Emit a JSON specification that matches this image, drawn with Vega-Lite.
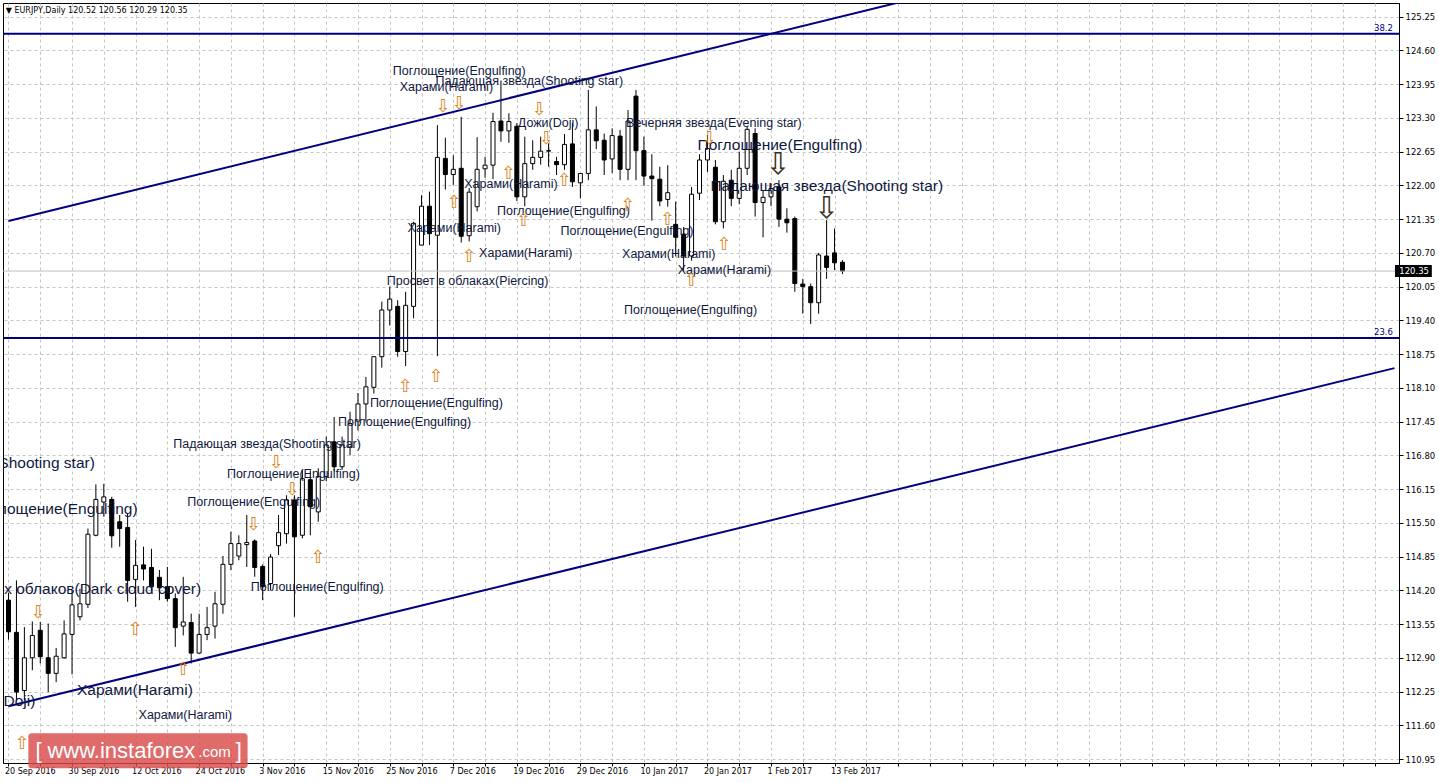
{
"$schema": "https://vega.github.io/schema/vega-lite/v6.json",
"width": 1396, "height": 760,
"autosize": {"type": "none"},
"padding": {"left": 3, "top": 3, "right": 40, "bottom": 20},
"background": "white",
"config": {"view": {"stroke": "black", "strokeWidth": 1}, "font": "DejaVu Sans",
  "axis": {"labelOverlap": false, "labelSeparation": 0}},
"datasets": {
"candles": [
{"i":0,"o":114.01,"h":114.15,"l":113.25,"c":113.40},
{"i":1,"o":113.39,"h":114.39,"l":112.08,"c":112.24},
{"i":2,"o":112.27,"h":113.49,"l":112.08,"c":112.90},
{"i":3,"o":112.90,"h":113.60,"l":112.66,"c":113.33},
{"i":4,"o":113.43,"h":113.59,"l":112.79,"c":112.92},
{"i":5,"o":112.90,"h":113.56,"l":112.24,"c":112.60},
{"i":6,"o":112.60,"h":113.09,"l":112.43,"c":112.93},
{"i":7,"o":112.90,"h":113.62,"l":112.88,"c":113.36},
{"i":8,"o":113.35,"h":114.20,"l":112.58,"c":113.92},
{"i":9,"o":113.69,"h":114.23,"l":113.62,"c":113.94},
{"i":10,"o":113.93,"h":115.39,"l":113.86,"c":115.28},
{"i":11,"o":115.26,"h":116.24,"l":115.24,"c":115.95},
{"i":12,"o":115.90,"h":116.25,"l":115.62,"c":116.00},
{"i":13,"o":115.95,"h":116.00,"l":115.02,"c":115.25},
{"i":14,"o":115.52,"h":115.65,"l":115.04,"c":115.39},
{"i":15,"o":115.41,"h":115.68,"l":113.98,"c":114.39},
{"i":16,"o":114.41,"h":115.17,"l":113.88,"c":114.68},
{"i":17,"o":114.69,"h":115.04,"l":114.39,"c":114.61},
{"i":18,"o":114.64,"h":115.00,"l":114.19,"c":114.27},
{"i":19,"o":114.45,"h":114.59,"l":114.01,"c":114.25},
{"i":20,"o":114.27,"h":114.65,"l":113.98,"c":114.04},
{"i":21,"o":114.04,"h":114.14,"l":113.11,"c":113.48},
{"i":22,"o":113.51,"h":114.46,"l":113.33,"c":113.59},
{"i":23,"o":113.58,"h":113.75,"l":112.79,"c":112.99},
{"i":24,"o":112.99,"h":113.75,"l":112.98,"c":113.35},
{"i":25,"o":113.35,"h":113.88,"l":113.24,"c":113.48},
{"i":26,"o":113.51,"h":114.17,"l":113.27,"c":113.94},
{"i":27,"o":113.93,"h":114.86,"l":113.75,"c":114.70},
{"i":28,"o":114.70,"h":115.33,"l":114.59,"c":115.10},
{"i":29,"o":114.86,"h":115.26,"l":114.78,"c":115.10},
{"i":30,"o":115.08,"h":115.65,"l":114.65,"c":115.12},
{"i":31,"o":115.15,"h":115.18,"l":114.46,"c":114.64},
{"i":32,"o":114.66,"h":114.70,"l":114.01,"c":114.27},
{"i":33,"o":114.33,"h":114.90,"l":114.20,"c":114.84},
{"i":34,"o":115.06,"h":115.65,"l":114.88,"c":115.31},
{"i":35,"o":115.29,"h":116.03,"l":115.10,"c":115.94},
{"i":36,"o":115.94,"h":116.03,"l":113.69,"c":115.23},
{"i":37,"o":115.26,"h":116.52,"l":115.20,"c":116.35},
{"i":38,"o":116.33,"h":116.51,"l":115.26,"c":115.81},
{"i":39,"o":115.71,"h":116.55,"l":115.52,"c":116.39},
{"i":40,"o":116.39,"h":117.16,"l":116.30,"c":117.00},
{"i":41,"o":117.06,"h":117.54,"l":116.50,"c":116.58},
{"i":42,"o":116.58,"h":117.16,"l":116.52,"c":117.00},
{"i":43,"o":116.96,"h":117.64,"l":116.80,"c":117.41},
{"i":44,"o":117.46,"h":118.00,"l":117.28,"c":117.79},
{"i":45,"o":117.79,"h":118.31,"l":117.45,"c":118.12},
{"i":46,"o":118.11,"h":118.71,"l":117.99,"c":118.70},
{"i":47,"o":118.70,"h":119.76,"l":118.49,"c":119.60},
{"i":48,"o":119.60,"h":120.05,"l":119.30,"c":119.81},
{"i":49,"o":119.67,"h":119.79,"l":118.70,"c":118.80},
{"i":50,"o":118.80,"h":119.95,"l":118.52,"c":119.69},
{"i":51,"o":119.67,"h":121.30,"l":119.44,"c":121.27},
{"i":52,"o":120.85,"h":121.81,"l":120.85,"c":121.60},
{"i":53,"o":121.60,"h":121.88,"l":120.85,"c":121.07},
{"i":54,"o":121.04,"h":123.16,"l":118.71,"c":122.54},
{"i":55,"o":122.52,"h":122.92,"l":121.92,"c":122.21},
{"i":56,"o":122.21,"h":122.58,"l":122.01,"c":122.31},
{"i":57,"o":122.33,"h":123.32,"l":120.90,"c":121.02},
{"i":58,"o":121.03,"h":121.95,"l":120.92,"c":121.87},
{"i":59,"o":121.59,"h":122.93,"l":121.50,"c":122.31},
{"i":60,"o":122.32,"h":122.55,"l":122.15,"c":122.39},
{"i":61,"o":122.39,"h":123.40,"l":122.12,"c":123.23},
{"i":62,"o":123.24,"h":124.02,"l":122.84,"c":123.05},
{"i":63,"o":123.05,"h":123.39,"l":122.82,"c":123.23},
{"i":64,"o":123.14,"h":123.20,"l":121.70,"c":121.78},
{"i":65,"o":121.78,"h":122.94,"l":121.60,"c":122.42},
{"i":66,"o":122.42,"h":122.87,"l":122.30,"c":122.54},
{"i":67,"o":122.54,"h":122.94,"l":122.40,"c":122.66},
{"i":68,"o":122.66,"h":122.81,"l":122.36,"c":122.67},
{"i":69,"o":122.46,"h":122.55,"l":122.20,"c":122.40},
{"i":70,"o":122.40,"h":122.99,"l":122.30,"c":122.79},
{"i":71,"o":122.80,"h":123.20,"l":121.97,"c":122.07},
{"i":72,"o":122.05,"h":122.23,"l":121.75,"c":122.23},
{"i":73,"o":122.23,"h":123.84,"l":122.10,"c":123.07},
{"i":74,"o":123.07,"h":123.52,"l":122.70,"c":122.86},
{"i":75,"o":122.87,"h":123.00,"l":122.20,"c":122.49},
{"i":76,"o":122.51,"h":123.10,"l":122.24,"c":122.96},
{"i":77,"o":122.95,"h":123.07,"l":122.10,"c":122.31},
{"i":78,"o":122.31,"h":123.45,"l":122.10,"c":123.24},
{"i":79,"o":123.72,"h":123.84,"l":122.10,"c":122.67},
{"i":80,"o":122.67,"h":122.94,"l":122.00,"c":122.18},
{"i":81,"o":122.18,"h":122.60,"l":121.32,"c":122.13},
{"i":82,"o":122.12,"h":122.36,"l":121.60,"c":121.70},
{"i":83,"o":121.73,"h":122.39,"l":121.59,"c":121.86},
{"i":84,"o":121.25,"h":121.69,"l":120.63,"c":121.00},
{"i":85,"o":121.06,"h":121.20,"l":120.34,"c":120.64},
{"i":86,"o":120.64,"h":121.97,"l":120.55,"c":121.83},
{"i":87,"o":121.85,"h":122.60,"l":121.72,"c":122.49},
{"i":88,"o":122.49,"h":122.97,"l":122.26,"c":122.71},
{"i":89,"o":122.35,"h":122.49,"l":121.25,"c":121.30},
{"i":90,"o":121.30,"h":122.20,"l":121.17,"c":122.08},
{"i":91,"o":122.10,"h":122.30,"l":121.60,"c":121.75},
{"i":92,"o":121.75,"h":122.65,"l":121.64,"c":122.33},
{"i":93,"o":122.33,"h":123.13,"l":122.20,"c":123.08},
{"i":94,"o":123.00,"h":123.10,"l":121.40,"c":121.67},
{"i":95,"o":121.67,"h":121.90,"l":121.00,"c":121.77},
{"i":96,"o":121.78,"h":122.04,"l":121.60,"c":121.94},
{"i":97,"o":121.97,"h":122.10,"l":121.20,"c":121.35},
{"i":98,"o":121.35,"h":121.56,"l":121.09,"c":121.28},
{"i":99,"o":121.36,"h":121.40,"l":119.95,"c":120.11},
{"i":100,"o":120.10,"h":120.20,"l":119.53,"c":120.05},
{"i":101,"o":120.05,"h":120.11,"l":119.33,"c":119.74},
{"i":102,"o":119.74,"h":120.70,"l":119.53,"c":120.66},
{"i":103,"o":120.64,"h":121.33,"l":120.20,"c":120.42},
{"i":104,"o":120.70,"h":121.17,"l":120.37,"c":120.51},
{"i":105,"o":120.52,"h":120.56,"l":120.29,"c":120.35}
],
"trend": [
{"g":"up","i":0,"p":121.313},{"g":"up","i":174.5,"p":127.87},
{"g":"dn","i":0,"p":111.966},{"g":"dn","i":174.5,"p":118.48}
],
"levels": [{"p":124.92,"t":"38.2","i":174.3},{"p":119.06,"t":"23.6","i":174.3}],
"smallText": [
{"t":"Поглощение(Engulfing)","i":48.375,"p":124.184},
{"t":"Харами(Harami)","i":49.25,"p":123.876},
{"t":"Падающая звезда(Shooting star)","i":53.75,"p":123.992},
{"t":"Дожи(Doji)","i":64.125,"p":123.182},
{"t":"Вечерняя звезда(Evening star)","i":77.75,"p":123.182},
{"t":"Харами(Harami)","i":57.375,"p":122.006},
{"t":"Поглощение(Engulfing)","i":61.5,"p":121.486},
{"t":"Харами(Harami)","i":50.25,"p":121.158},
{"t":"Поглощение(Engulfing)","i":69.5,"p":121.100},
{"t":"Харами(Harami)","i":59.25,"p":120.676},
{"t":"Харами(Harami)","i":77.25,"p":120.656},
{"t":"Харами(Harami)","i":84.25,"p":120.348},
{"t":"Просвет в облаках(Piercing)","i":47.625,"p":120.136},
{"t":"Поглощение(Engulfing)","i":77.5,"p":119.577},
{"t":"Поглощение(Engulfing)","i":45.5,"p":117.785},
{"t":"Поглощение(Engulfing)","i":41.5,"p":117.419},
{"t":"Падающая звезда(Shooting star)","i":20.75,"p":116.995},
{"t":"Поглощение(Engulfing)","i":27.5,"p":116.417},
{"t":"Поглощение(Engulfing)","i":22.5,"p":115.877},
{"t":"Поглощение(Engulfing)","i":30.5,"p":114.239},
{"t":"Харами(Harami)","i":16.375,"p":111.772}
],
"bigText": [
{"t":"Поглощение(Engulfing)","i":86.75,"p":122.758},
{"t":"Падающая звезда(Shooting star)","i":88.375,"p":121.968},
{"t":"Харами(Harami)","i":8.625,"p":112.254}
],
"bigTextRight": [
{"t":"Падающая звезда(Shooting star)","i":10.875,"p":116.629},
{"t":"Поглощение(Engulfing)","i":16.25,"p":115.743},
{"t":"Завеса из темных облаков(Dark cloud cover)","i":24.25,"p":114.201},
{"t":"Дожи(Doji)","i":3.375,"p":112.042}
],
"downArrows": [
{"i":54.75,"p":123.510},{"i":56.75,"p":123.568},{"i":66.875,"p":123.452},{"i":67.75,"p":122.893},
{"i":33.75,"p":116.655},{"i":35.75,"p":116.136},{"i":30.875,"p":115.461},{"i":3.75,"p":113.765},
{"i":88.25,"p":122.893}
],
"upArrows": [
{"i":56.125,"p":121.660},{"i":63.0,"p":122.219},{"i":64.875,"p":121.313},{"i":70.0,"p":122.084},
{"i":78.0,"p":121.602},{"i":58.0,"p":120.619},{"i":83.0,"p":121.332},{"i":90.125,"p":120.850},
{"i":86.0,"p":120.156},{"i":53.875,"p":118.306},{"i":50.0,"p":118.114},{"i":39.0,"p":114.818},
{"i":16.0,"p":113.431},{"i":22.0,"p":112.660},{"i":1.75,"p":111.234}
],
"bigDownArrows": [{"i":96.875,"p":122.392},{"i":103.0,"p":121.544}],
"header": [{"t":"▼ EURJPY,Daily  120.52 120.56 120.29 120.35","i":-0.35,"p":125.36}],
"lastPrice": [{"p":120.35,"t":"120.35","i1":174.56,"i2":179.2,"p1":120.466,"p2":120.234,"it":175.1}],
"wmBox": [{"i1":2.5,"i2":30.1,"p1":111.447,"p2":110.773}],
"wmText": [{"t":"[","i":3.4,"p":111.1},{"t":"www.instaforex","i":4.9,"p":111.1},{"t":"]","i":28.6,"p":111.1}],
"wmCom": [{"t":".com","i":23.9,"p":111.08}]
},
"layer": [
{"data":{"name":"candles"},
 "mark":{"type":"rule","color":"black","strokeWidth":1,"clip":true},
 "encoding":{
  "x":{"field":"i","type":"quantitative","scale":{"domain":[-0.0625,174.4375],"nice":false,"zero":false},
   "axis":{"orient":"bottom","title":null,"tickCount":500,
    "values":[0,4,8,12,16,20,24,28,32,36,40,44,48,52,56,60,64,68,72,76,80,84,88,92,96,100,104,108,112,116,120,124,128,132,136,140,144,148,152,156,160,164,168,172],
    "labelExpr":"datum.value % 8 == 0 && datum.value <= 104 ? ['20 Sep 2016','30 Sep 2016','12 Oct 2016','24 Oct 2016','3 Nov 2016','15 Nov 2016','25 Nov 2016','7 Dec 2016','19 Dec 2016','29 Dec 2016','10 Jan 2017','20 Jan 2017','1 Feb 2017','13 Feb 2017'][datum.value / 8] : ''",
    "grid":true,"gridColor":"#c4c4c4","gridDash":[3,3],"gridWidth":1,
    "domain":true,"domainColor":"black","ticks":true,"tickColor":"black","tickSize":3,
    "labelAlign":"left","labelBaseline":"top","labelPadding":1,"labelOffset":-4,"labelFont":"DejaVu Sans","labelFontSize":8,
    "labelColor":"black","labelOverlap":false,"labelBound":false,"labelFlush":false}},
  "y":{"field":"l","type":"quantitative","scale":{"domain":[110.873,125.514],"nice":false,"zero":false},
   "axis":{"orient":"right","title":null,"tickCount":500,
    "values":[110.95,111.6,112.25,112.9,113.55,114.2,114.85,115.5,116.15,116.8,117.45,118.1,118.75,119.4,120.05,120.7,121.35,122.0,122.65,123.3,123.95,124.6,125.25],
    "format":".2f","grid":true,"gridColor":"#c4c4c4","gridDash":[3,3],"gridWidth":1,
    "domain":true,"domainColor":"black","ticks":true,"tickColor":"black","tickSize":4,
    "labelAlign":"left","labelBaseline":"middle","labelPadding":2,"labelFont":"DejaVu Sans","labelFontSize":8.5,
    "labelColor":"black","labelOverlap":false,"labelBound":false,"labelFlush":false}},
  "y2":{"field":"h"}}},
{"data":{"name":"candles"},
 "mark":{"type":"bar","size":4,"stroke":"black","strokeWidth":1,"clip":true},
 "encoding":{
  "x":{"field":"i","type":"quantitative"},
  "y":{"field":"o","type":"quantitative"},
  "y2":{"field":"c"},
  "fill":{"condition":{"test":"datum.c > datum.o","value":"white"},"value":"black"}}},
{"data":{"name":"lastPrice"},
 "mark":{"type":"rule","color":"#c0c0c0","strokeWidth":1,"clip":true},
 "encoding":{"y":{"field":"p","type":"quantitative"}}},
{"data":{"name":"levels"},
 "mark":{"type":"rule","color":"#000080","strokeWidth":2,"clip":true},
 "encoding":{"y":{"field":"p","type":"quantitative"}}},
{"data":{"name":"levels"},
 "mark":{"type":"text","color":"#000080","font":"DejaVu Sans","fontSize":8.5,"align":"right","baseline":"bottom","dy":-1,"clip":false},
 "encoding":{"y":{"field":"p","type":"quantitative"},"x":{"field":"i","type":"quantitative"},"text":{"field":"t"}}},
{"data":{"name":"trend"},
 "mark":{"type":"line","color":"#000080","strokeWidth":2,"clip":true},
 "encoding":{"x":{"field":"i","type":"quantitative"},"y":{"field":"p","type":"quantitative"},"detail":{"field":"g"}}},
{"data":{"name":"smallText"},
 "mark":{"type":"text","font":"Liberation Sans","fontSize":12.5,"align":"left","baseline":"middle","dy":-1,"color":"#101840","clip":true},
 "encoding":{"x":{"field":"i","type":"quantitative"},"y":{"field":"p","type":"quantitative"},"text":{"field":"t"}}},
{"data":{"name":"bigText"},
 "mark":{"type":"text","font":"Liberation Sans","fontSize":15.5,"align":"left","baseline":"middle","dy":-1,"color":"#101840","clip":true},
 "encoding":{"x":{"field":"i","type":"quantitative"},"y":{"field":"p","type":"quantitative"},"text":{"field":"t"}}},
{"data":{"name":"bigTextRight"},
 "mark":{"type":"text","font":"Liberation Sans","fontSize":15.5,"align":"right","baseline":"middle","dy":-1,"color":"#101840","clip":true},
 "encoding":{"x":{"field":"i","type":"quantitative"},"y":{"field":"p","type":"quantitative"},"text":{"field":"t"}}},
{"data":{"name":"downArrows"},
 "mark":{"type":"text","font":"DejaVu Sans","fontSize":18,"align":"center","baseline":"middle","color":"#d9861c","clip":true},
 "encoding":{"x":{"field":"i","type":"quantitative"},"y":{"field":"p","type":"quantitative"},"text":{"value":"⇩"}}},
{"data":{"name":"upArrows"},
 "mark":{"type":"text","font":"DejaVu Sans","fontSize":18,"align":"center","baseline":"middle","color":"#d9861c","clip":true},
 "encoding":{"x":{"field":"i","type":"quantitative"},"y":{"field":"p","type":"quantitative"},"text":{"value":"⇧"}}},
{"data":{"name":"bigDownArrows"},
 "mark":{"type":"text","font":"DejaVu Sans","fontSize":30,"align":"center","baseline":"middle","color":"#3a3020","clip":true},
 "encoding":{"x":{"field":"i","type":"quantitative"},"y":{"field":"p","type":"quantitative"},"text":{"value":"⇩"}}},
{"data":{"name":"header"},
 "mark":{"type":"text","font":"DejaVu Sans","fontSize":8,"align":"left","baseline":"middle","color":"black","clip":true},
 "encoding":{"x":{"field":"i","type":"quantitative"},"y":{"field":"p","type":"quantitative"},"text":{"field":"t"}}},
{"data":{"name":"lastPrice"},
 "mark":{"type":"rect","fill":"black","clip":false},
 "encoding":{"x":{"field":"i1","type":"quantitative"},"x2":{"field":"i2"},"y":{"field":"p1","type":"quantitative"},"y2":{"field":"p2"}}},
{"data":{"name":"lastPrice"},
 "mark":{"type":"text","font":"DejaVu Sans","fontSize":8.5,"align":"left","baseline":"middle","color":"white","clip":false},
 "encoding":{"x":{"field":"it","type":"quantitative"},"y":{"field":"p","type":"quantitative"},"text":{"field":"t"}}},
{"data":{"name":"wmBox"},
 "mark":{"type":"rect","fill":"#d94a4a","opacity":0.82,"cornerRadius":3,"clip":false},
 "encoding":{"x":{"field":"i1","type":"quantitative"},"x2":{"field":"i2"},"y":{"field":"p1","type":"quantitative"},"y2":{"field":"p2"}}},
{"data":{"name":"wmText"},
 "mark":{"type":"text","font":"Liberation Sans","fontSize":22,"align":"left","baseline":"middle","color":"white","clip":false},
 "encoding":{"x":{"field":"i","type":"quantitative"},"y":{"field":"p","type":"quantitative"},"text":{"field":"t"}}},
{"data":{"name":"wmCom"},
 "mark":{"type":"text","font":"Liberation Sans","fontSize":15,"align":"left","baseline":"middle","color":"white","clip":false},
 "encoding":{"x":{"field":"i","type":"quantitative"},"y":{"field":"p","type":"quantitative"},"text":{"field":"t"}}}
]
}
